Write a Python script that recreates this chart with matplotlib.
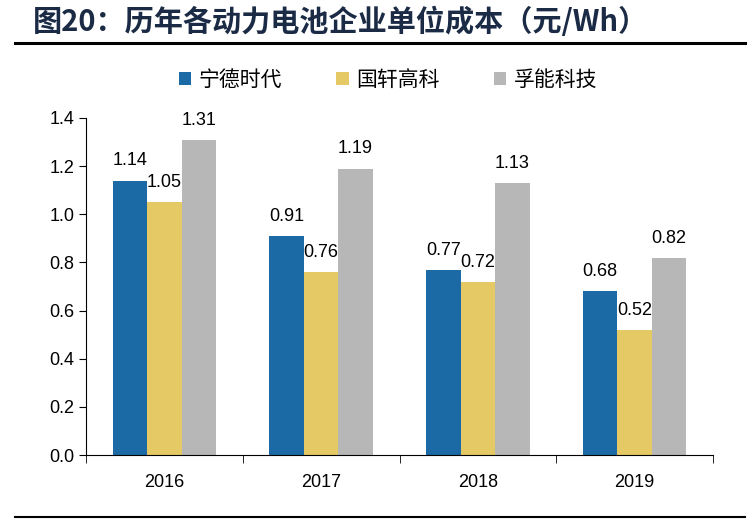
import matplotlib.pyplot as plt
import numpy as np

plt.rcParams['font.family'] = ['Liberation Sans', 'Noto Sans CJK SC', 'DejaVu Sans']

years = ['2016', '2017', '2018', '2019']
companies = ['宁德时代', '国轩高科', '孚能科技']
catl = [1.14, 0.91, 0.77, 0.68]
gotion = [1.05, 0.76, 0.72, 0.52]
farasis = [1.31, 1.19, 1.13, 0.82]
colors = ['#1B6AA5', '#E5C965', '#B7B7B7']

fig = plt.figure(figsize=(7.56, 5.2), dpi=100)
ax = fig.add_axes([86 / 756, 1 - 455 / 520, (713 - 86) / 756, (455 - 118) / 520])

x = np.arange(len(years))
w = 0.22
for i, (vals, c, name) in enumerate(zip([catl, gotion, farasis], colors, companies)):
    bars = ax.bar(x + (i - 1) * w, vals, w, color=c, label=name)
    for b in bars:
        ax.annotate(f'{b.get_height():.2f}',
                    xy=(b.get_x() + b.get_width() / 2, b.get_height()),
                    xytext=(0, 8), textcoords='offset points',
                    ha='center', va='bottom', fontsize=13)

ax.set_xlim(-0.5, len(years) - 0.5)
ax.set_ylim(0, 1.4)
ax.set_yticks(np.arange(0, 1.41, 0.2))
ax.set_yticklabels([f'{v:.1f}' for v in np.arange(0, 1.41, 0.2)], fontsize=13)
ax.set_xticks(x)
ax.set_xticklabels(years, fontsize=13)
ax.set_xticks(np.arange(-0.5, len(years), 1), minor=True)
ax.tick_params(axis='x', which='major', length=0, pad=14)
ax.tick_params(axis='x', which='minor', length=6, direction='out')
ax.tick_params(axis='y', length=5, direction='out')
for s in ['top', 'right']:
    ax.spines[s].set_visible(False)

fig.legend(loc='center', bbox_to_anchor=(388 / 756, 1 - 80 / 520), ncol=3,
           frameon=False, handlelength=0.6, handleheight=0.6,
           columnspacing=2.6, handletextpad=0.35,
           prop={'family': ['Noto Sans CJK SC'], 'size': 15})

fig.text(33 / 756, 1 - 22 / 520, '图20：历年各动力电池企业单位成本（元/Wh）',
         fontsize=21, fontweight='bold', color='#1C2B45', va='center',
         family=['Noto Sans CJK SC', 'DejaVu Sans'])
fig.add_artist(plt.Line2D([15 / 756, 745 / 756], [1 - 43 / 520, 1 - 43 / 520],
                          color='black', lw=2.2))
fig.add_artist(plt.Line2D([15 / 756, 745 / 756], [1 - 517 / 520, 1 - 517 / 520],
                          color='black', lw=1.5))

plt.savefig('out.png', dpi=100)
